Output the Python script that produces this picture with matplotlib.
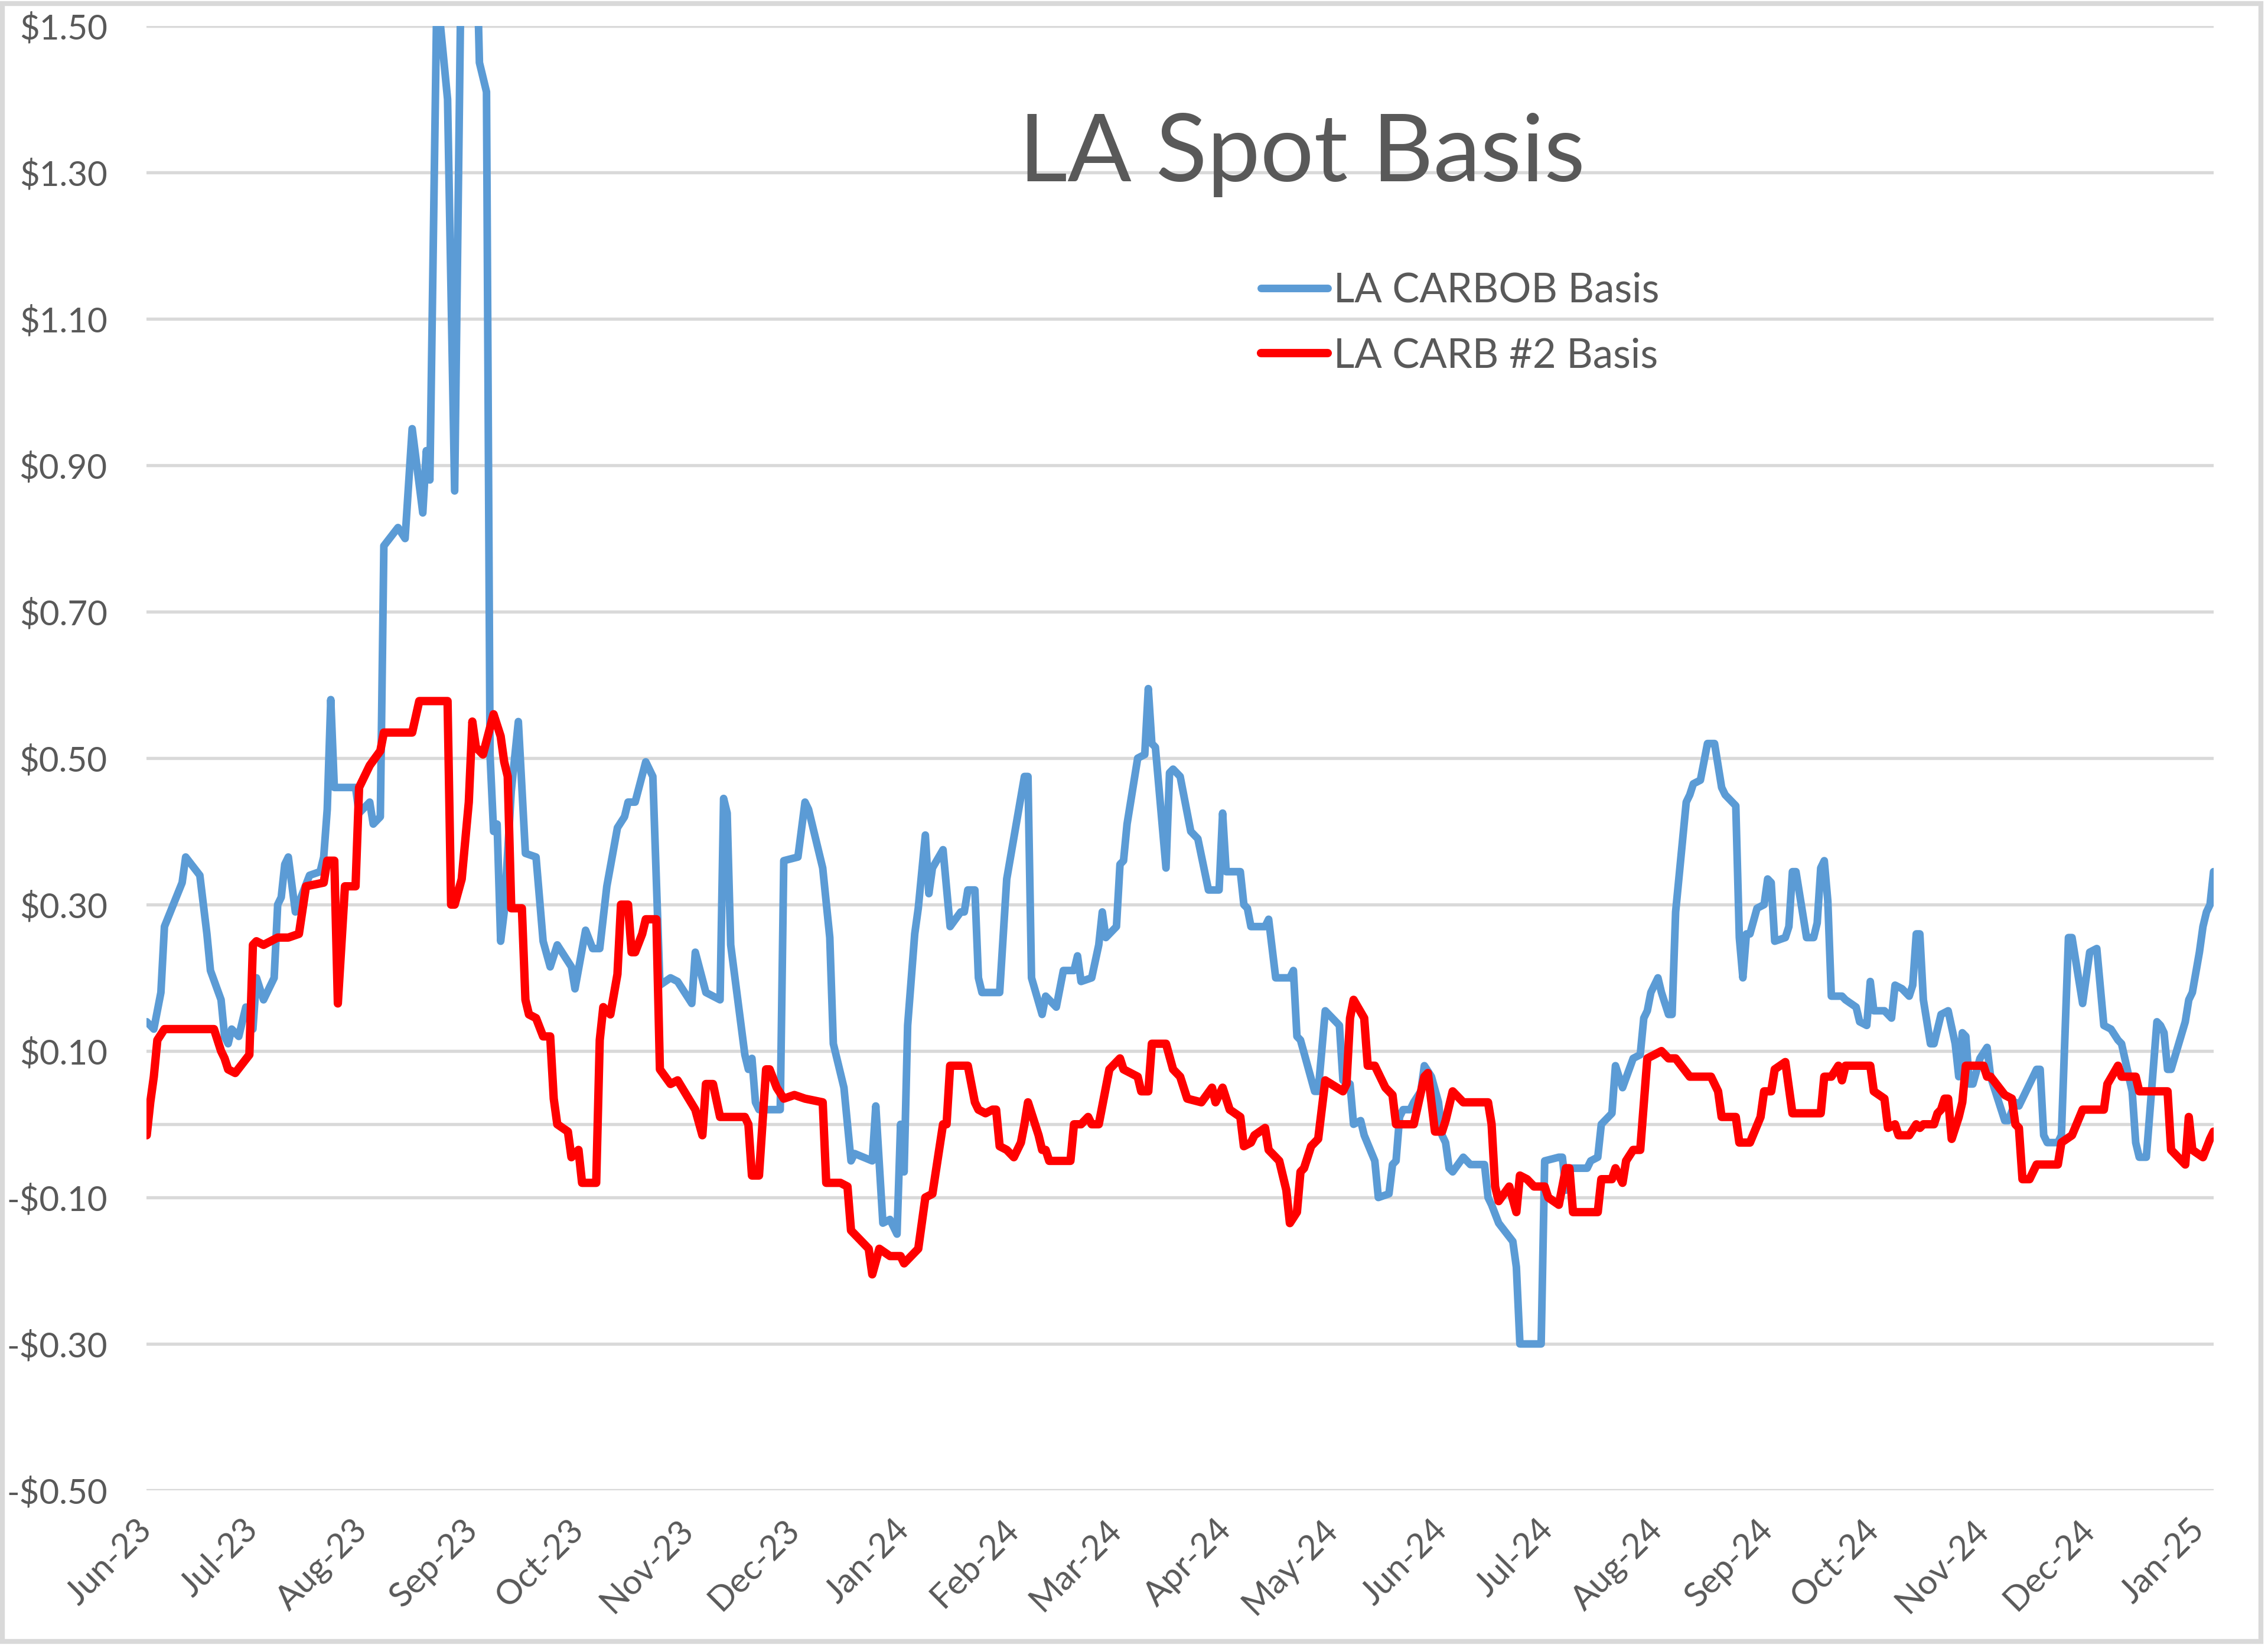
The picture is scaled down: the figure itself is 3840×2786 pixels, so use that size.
import matplotlib.pyplot as plt
import matplotlib.dates as mdates
from matplotlib.patches import Rectangle
from matplotlib.ticker import FuncFormatter
import pandas as pd

plt.rcParams['font.family'] = ['Lato', 'DejaVu Sans']

# days counted from 1 Jun 2023
start_date = '2023-06-01'

carbob_day = [0, 2, 4, 5, 10, 11, 15, 17, 18, 21,
              22, 23, 24, 26, 28, 30, 31, 33, 36, 37,
              38, 39, 40, 42, 46, 49, 50, 51, 52, 53,
              59, 60, 63, 64, 66, 67, 71, 73, 75, 78,
              79, 80, 82, 85, 87, 89, 93, 94, 96, 97,
              98, 99, 100, 101, 103, 105, 107, 110, 112, 114,
              116, 120, 121, 124, 126, 128, 130, 133, 135, 136,
              138, 141, 143, 145, 148, 150, 154, 155, 158, 162,
              163, 164, 165, 169, 170, 171, 172, 173, 179, 180,
              184, 186, 187, 191, 193, 194, 197, 199, 200, 205,
              206, 208, 210, 212, 213, 214, 215, 217, 218, 220,
              221, 222, 225, 227, 230, 231, 232, 234, 235, 236,
              241, 243, 248, 249, 250, 253, 254, 257, 259, 262,
              263, 264, 267, 269, 270, 271, 274, 275, 276, 277,
              280, 282, 283, 284, 285, 288, 289, 290, 292, 295,
              297, 300, 303, 304, 305, 309, 310, 311, 312, 316,
              317, 319, 323, 324, 325, 326, 330, 331, 333, 334,
              337, 338, 340, 341, 343, 344, 347, 348, 351, 352,
              353, 354, 355, 357, 358, 360, 361, 363, 365, 366,
              367, 368, 369, 372, 374, 378, 379, 380, 382, 386,
              387, 388, 394, 395, 399, 400, 401, 402, 407, 408,
              410, 411, 414, 415, 417, 420, 422, 423, 424, 425,
              427, 428, 430, 431, 432, 435, 436, 437, 439, 441,
              443, 445, 446, 449, 450, 451, 452, 453, 455, 457,
              458, 459, 460, 463, 464, 465, 466, 467, 469, 471,
              472, 473, 474, 475, 476, 479, 480, 483, 484, 486,
              487, 488, 491, 493, 494, 496, 498, 499, 500, 501,
              502, 504, 505, 507, 509, 511, 512, 513, 514, 515,
              516, 518, 520, 521, 525, 526, 528, 529, 531, 534,
              535, 536, 537, 540, 541, 543, 544, 547, 549, 551,
              553, 555, 557, 558, 561, 562, 563, 565, 568, 569,
              570, 571, 572, 576, 577, 578, 580, 581, 582, 583,
              584]
carbob_val = [0.14, 0.13, 0.18, 0.27, 0.33, 0.365, 0.34, 0.26, 0.21, 0.17,
              0.12, 0.11, 0.13, 0.12, 0.16, 0.13, 0.20, 0.17, 0.20, 0.30,
              0.31, 0.355, 0.365, 0.29, 0.34, 0.345, 0.365, 0.43, 0.58, 0.46,
              0.46, 0.425, 0.44, 0.41, 0.42, 0.79, 0.815, 0.80, 0.95, 0.835,
              0.92, 0.88, 1.55, 1.40, 0.865, 1.65, 1.65, 1.45, 1.41, 0.505,
              0.40, 0.41, 0.25, 0.29, 0.455, 0.55, 0.37, 0.365, 0.25, 0.215,
              0.245, 0.215, 0.185, 0.265, 0.24, 0.24, 0.325, 0.405, 0.42, 0.44,
              0.44, 0.495, 0.475, 0.19, 0.20, 0.195, 0.165, 0.235, 0.18, 0.17,
              0.445, 0.425, 0.245, 0.095, 0.075, 0.09, 0.03, 0.02, 0.02, 0.36,
              0.365, 0.44, 0.43, 0.35, 0.255, 0.11, 0.05, -0.05, -0.04, -0.05,
              0.025, -0.135, -0.13, -0.15, 0.0, -0.065, 0.135, 0.26, 0.295, 0.395,
              0.315, 0.35, 0.375, 0.27, 0.29, 0.29, 0.32, 0.32, 0.20, 0.18,
              0.18, 0.335, 0.475, 0.475, 0.20, 0.15, 0.175, 0.16, 0.21, 0.21,
              0.23, 0.195, 0.20, 0.245, 0.29, 0.255, 0.27, 0.355, 0.36, 0.41,
              0.50, 0.505, 0.595, 0.52, 0.515, 0.35, 0.48, 0.485, 0.475, 0.40,
              0.39, 0.32, 0.32, 0.425, 0.345, 0.345, 0.30, 0.295, 0.27, 0.27,
              0.28, 0.20, 0.20, 0.21, 0.12, 0.115, 0.045, 0.045, 0.155, 0.15,
              0.135, 0.06, 0.055, 0.0, 0.005, -0.015, -0.05, -0.10, -0.095, -0.055,
              -0.05, 0.01, 0.02, 0.02, 0.03, 0.045, 0.08, 0.065, 0.03, -0.015,
              -0.025, -0.06, -0.065, -0.045, -0.055, -0.055, -0.10, -0.11, -0.135, -0.16,
              -0.195, -0.30, -0.30, -0.05, -0.045, -0.045, -0.09, -0.06, -0.06, -0.05,
              -0.045, 0.0, 0.015, 0.08, 0.05, 0.09, 0.095, 0.145, 0.155, 0.18,
              0.20, 0.18, 0.15, 0.15, 0.29, 0.44, 0.45, 0.465, 0.47, 0.52,
              0.52, 0.46, 0.45, 0.435, 0.255, 0.20, 0.26, 0.26, 0.295, 0.30,
              0.335, 0.33, 0.25, 0.255, 0.27, 0.345, 0.345, 0.315, 0.255, 0.255,
              0.275, 0.35, 0.36, 0.305, 0.175, 0.175, 0.17, 0.16, 0.14, 0.135,
              0.195, 0.155, 0.155, 0.145, 0.19, 0.185, 0.175, 0.19, 0.26, 0.26,
              0.17, 0.11, 0.11, 0.15, 0.155, 0.11, 0.065, 0.125, 0.12, 0.055,
              0.055, 0.09, 0.105, 0.065, 0.005, 0.005, 0.03, 0.025, 0.045, 0.075,
              0.075, -0.015, -0.025, -0.025, -0.015, 0.255, 0.255, 0.165, 0.235, 0.24,
              0.135, 0.13, 0.115, 0.11, 0.045, -0.025, -0.045, -0.045, 0.14, 0.135,
              0.125, 0.075, 0.075, 0.14, 0.17, 0.18, 0.235, 0.27, 0.29, 0.30,
              0.345]

carb2_day = [0, 1, 2, 3, 5, 19, 21, 22, 23, 25,
             29, 30, 31, 33, 37, 40, 43, 45, 50, 51,
             53, 54, 56, 59, 60, 63, 66, 67, 75, 77,
             85, 86, 87, 89, 91, 92, 93, 95, 98, 100,
             101, 102, 103, 106, 107, 108, 110, 112, 114, 115,
             116, 119, 120, 122, 123, 127, 128, 129, 131, 133,
             134, 136, 137, 138, 140, 141, 144, 145, 148, 150,
             155, 157, 158, 160, 162, 169, 170, 171, 173, 175,
             176, 178, 180, 183, 186, 191, 192, 196, 198, 199,
             200, 204, 205, 207, 210, 213, 214, 218, 220, 222,
             225, 226, 227, 232, 234, 235, 237, 239, 240, 241,
             243, 245, 247, 248, 249, 252, 253, 254, 255, 261,
             262, 264, 266, 267, 269, 272, 275, 276, 280, 281,
             283, 284, 288, 290, 292, 294, 298, 301, 302, 304,
             306, 309, 310, 312, 313, 316, 317, 319, 320, 322,
             323, 325, 326, 327, 329, 331, 333, 338, 339, 340,
             341, 344, 345, 347, 350, 352, 353, 358, 361, 362,
             364, 366, 367, 369, 372, 379, 380, 381, 382, 385,
             387, 388, 390, 392, 395, 396, 399, 401, 402, 403,
             410, 411, 414, 415, 417, 418, 420, 422, 424, 428,
             430, 432, 436, 442, 444, 445, 449, 450, 453, 456,
             457, 459, 460, 463, 465, 473, 474, 476, 478, 479,
             480, 483, 487, 488, 491, 492, 494, 495, 498, 500,
             501, 502, 505, 506, 507, 508, 509, 510, 512, 513,
             514, 519, 520, 521, 525, 527, 528, 529, 530, 532,
             534, 540, 541, 544, 547, 553, 554, 557, 558, 562,
             563, 571, 572, 576, 577, 578, 581, 583, 584]
carb2_val = [-0.015, 0.03, 0.065, 0.115, 0.13, 0.13, 0.10, 0.09, 0.075, 0.07,
             0.095, 0.245, 0.25, 0.245, 0.255, 0.255, 0.26, 0.325, 0.33, 0.36,
             0.36, 0.165, 0.325, 0.325, 0.46, 0.49, 0.51, 0.535, 0.535, 0.578,
             0.578, 0.30, 0.30, 0.335, 0.44, 0.55, 0.515, 0.505, 0.56, 0.53,
             0.495, 0.475, 0.295, 0.295, 0.17, 0.15, 0.145, 0.12, 0.12, 0.035,
             0.0, -0.01, -0.045, -0.035, -0.08, -0.08, 0.115, 0.16, 0.15, 0.205,
             0.30, 0.30, 0.235, 0.235, 0.26, 0.28, 0.28, 0.075, 0.055, 0.06,
             0.02, -0.015, 0.055, 0.055, 0.01, 0.01, 0.0, -0.07, -0.07, 0.075,
             0.075, 0.05, 0.035, 0.04, 0.035, 0.03, -0.08, -0.08, -0.085, -0.145,
             -0.15, -0.17, -0.205, -0.17, -0.18, -0.18, -0.19, -0.17, -0.10, -0.095,
             0.0, 0.0, 0.08, 0.08, 0.03, 0.02, 0.015, 0.02, 0.02, -0.03,
             -0.035, -0.045, -0.025, 0.0, 0.03, -0.015, -0.035, -0.035, -0.05, -0.05,
             0.0, 0.0, 0.01, 0.0, 0.0, 0.075, 0.09, 0.075, 0.065, 0.045,
             0.045, 0.11, 0.11, 0.075, 0.065, 0.035, 0.03, 0.05, 0.03, 0.05,
             0.02, 0.01, -0.03, -0.025, -0.015, -0.005, -0.035, -0.045, -0.05, -0.09,
             -0.135, -0.12, -0.065, -0.06, -0.03, -0.02, 0.06, 0.045, 0.055, 0.145,
             0.17, 0.145, 0.08, 0.08, 0.05, 0.04, 0.0, 0.0, 0.065, 0.07,
             -0.01, -0.01, 0.005, 0.045, 0.03, 0.03, 0.0, -0.085, -0.105, -0.085,
             -0.12, -0.07, -0.075, -0.085, -0.085, -0.10, -0.11, -0.06, -0.06, -0.12,
             -0.12, -0.075, -0.075, -0.06, -0.08, -0.05, -0.035, -0.035, 0.09, 0.10,
             0.09, 0.09, 0.065, 0.065, 0.045, 0.01, 0.01, -0.025, -0.025, 0.01,
             0.045, 0.045, 0.075, 0.085, 0.015, 0.015, 0.065, 0.065, 0.08, 0.06,
             0.08, 0.08, 0.08, 0.045, 0.035, -0.005, 0.0, -0.015, -0.015, 0.0,
             -0.005, 0.0, 0.0, 0.015, 0.02, 0.035, 0.035, -0.02, 0.01, 0.03,
             0.08, 0.08, 0.065, 0.065, 0.04, 0.035, 0.0, -0.005, -0.075, -0.075,
             -0.055, -0.055, -0.025, -0.015, 0.02, 0.02, 0.055, 0.08, 0.065, 0.065,
             0.045, 0.045, -0.035, -0.055, 0.01, -0.035, -0.045, -0.02, -0.01]

y_ticks = [-0.5, -0.3, -0.1, 0.1, 0.3, 0.5, 0.7, 0.9, 1.1, 1.3, 1.5]
x_end = '2025-01-05'

text_grey = '#595959'
grid_grey = '#D9D9D9'

t0 = pd.Timestamp(start_date)
carbob_dates = t0 + pd.to_timedelta(carbob_day, unit='D')
carb2_dates = t0 + pd.to_timedelta(carb2_day, unit='D')

fig = plt.figure(figsize=(12.8, 2786 / 300), dpi=300)
ax = fig.add_axes([0.0647, 0.094, 0.9113, 0.8902])

ax.plot(carbob_dates, carbob_val, color='#5B9BD5', lw=3.1,
        solid_joinstyle='round', solid_capstyle='round', label='LA CARBOB Basis', zorder=3)
ax.plot(carb2_dates, carb2_val, color='#FF0000', lw=3.4,
        solid_joinstyle='round', solid_capstyle='round', label='LA CARB #2 Basis', zorder=4)

ax.set_ylim(-0.5, 1.5)
ax.set_xlim(t0, pd.Timestamp(x_end))
ax.set_yticks(y_ticks)
ax.yaxis.set_major_formatter(FuncFormatter(
    lambda v, p: f'-${abs(v):.2f}' if v < 0 else f'${v:.2f}'))
ax.xaxis.set_major_locator(mdates.MonthLocator())
ax.xaxis.set_major_formatter(mdates.DateFormatter('%b-%y'))

ax.grid(axis='y', color=grid_grey, lw=1.3)
ax.set_axisbelow(True)
ax.axhline(0, color=grid_grey, lw=1.3, zorder=1)
for s in ax.spines.values():
    s.set_visible(False)

ax.tick_params(axis='y', length=0, pad=16, labelsize=14, labelcolor=text_grey)
ax.tick_params(axis='x', length=0, pad=14, labelsize=14, labelcolor=text_grey)
for lbl in ax.get_xticklabels():
    lbl.set_rotation(45)
    lbl.set_ha('right')
    lbl.set_va('center')
    lbl.set_rotation_mode('anchor')

fig.text(0.574, 0.906, 'LA Spot Basis', ha='center', va='center',
         fontsize=38.5, color=text_grey)

ax.legend(loc='upper left', bbox_to_anchor=(0.5561, 0.8346),
          bbox_transform=fig.transFigure, frameon=False, fontsize=16.5,
          labelcolor=text_grey, handlelength=1.64, handletextpad=0.15,
          labelspacing=0.69, borderpad=0, borderaxespad=0)

fig.patches.append(Rectangle((0.001, 0.002), 0.996, 0.996, transform=fig.transFigure,
                             fill=False, edgecolor=grid_grey, lw=2))

fig.savefig('out.png', dpi=300, facecolor='white')
